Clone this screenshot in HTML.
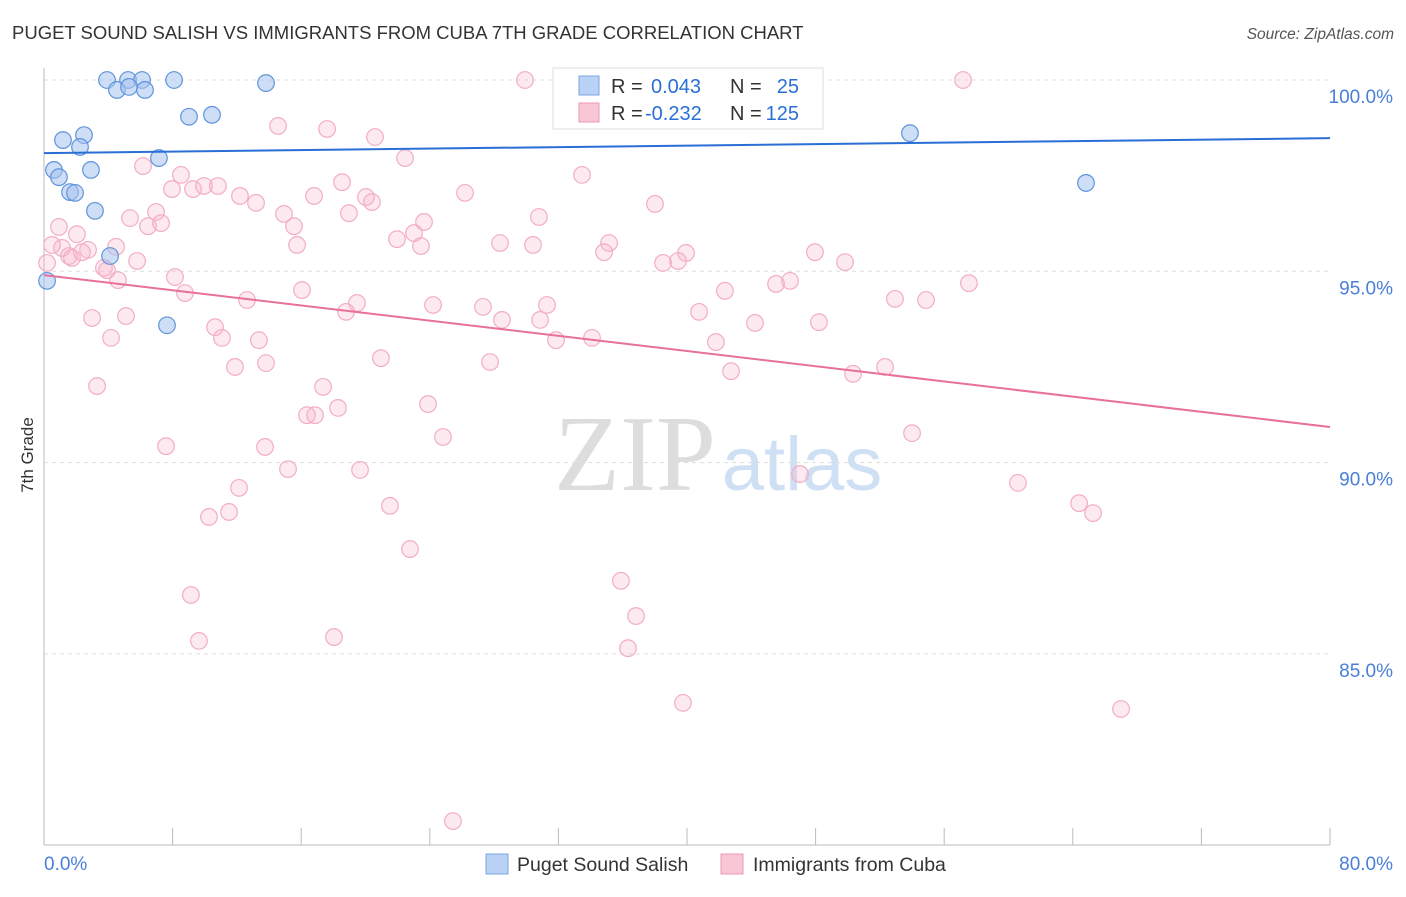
<!DOCTYPE html>
<html><head><meta charset="utf-8">
<style>
body{margin:0;background:#fff;font-family:"Liberation Sans",sans-serif;}
svg text{font-family:"Liberation Sans",sans-serif;}
</style></head>
<body>
<svg width="1406" height="892" xmlns="http://www.w3.org/2000/svg" id="chart">
<text x="12" y="39" font-size="18.5" fill="#333">PUGET SOUND SALISH VS IMMIGRANTS FROM CUBA 7TH GRADE CORRELATION CHART</text>
<text x="1394" y="39" font-size="15.5" fill="#555" font-style="italic" text-anchor="end">Source: ZipAtlas.com</text>
<g>
<text x="635" y="490" font-size="108" fill="#ddd" text-anchor="middle" style="font-family:'Liberation Serif',serif">ZIP</text>
<text x="802" y="490" font-size="76" fill="#cfe0f5" text-anchor="middle">atlas</text>
</g>
<g id="grid"></g>
<g id="axes"></g>
<g id="pts"></g>
<g id="lines"></g>
<text transform="translate(33,455) rotate(-90)" font-size="17" fill="#333" text-anchor="middle">7th Grade</text>
<g>
<rect x="553" y="68" width="270" height="61" fill="#fff" stroke="#ddd"/>
<rect x="579" y="76" width="20" height="19" fill="#b9d2f5" stroke="#7aa5e0"/>
<rect x="579" y="103" width="20" height="19" fill="#f9c6d6" stroke="#ee9ab6"/>
<text x="611" y="93" font-size="20" fill="#333">R =</text>
<text x="651" y="93" font-size="20" fill="#2a6fd6">0.043</text>
<text x="730" y="93" font-size="20" fill="#333">N =</text>
<text x="799" y="93" font-size="20" fill="#2a6fd6" text-anchor="end">25</text>
<text x="611" y="120" font-size="20" fill="#333">R =</text>
<text x="645" y="120" font-size="20" fill="#2a6fd6">-0.232</text>
<text x="730" y="120" font-size="20" fill="#333">N =</text>
<text x="799" y="120" font-size="20" fill="#2a6fd6" text-anchor="end">125</text>
</g>
<g>
<rect x="486" y="854" width="22" height="20" fill="#b9d2f5" stroke="#7aa5e0"/>
<text x="517" y="871" font-size="19.5" fill="#333">Puget Sound Salish</text>
<rect x="721" y="854" width="22" height="20" fill="#f9c6d6" stroke="#ee9ab6"/>
<text x="753" y="871" font-size="19.5" fill="#333">Immigrants from Cuba</text>
</g>
</svg>
<script>
const yTicks=[100,95,90,85];
const yTickLabels=["100.0%","95.0%","90.0%","85.0%"];
const xTickCount=10;
const xLabels=["0.0%","80.0%"];
const blueX=[3.92,5.23,6.10,8.09,13.81,4.54,5.29,6.28,9.02,10.45,1.18,2.49,2.24,7.15,0.62,2.92,0.93,1.62,1.93,3.17,4.11,0.19,7.65,53.87,64.82];
const blueY=[100,100,100,100,99.92,99.74,99.82,99.74,99.04,99.09,98.43,98.56,98.25,97.96,97.65,97.65,97.46,97.07,97.05,96.58,95.40,94.75,93.59,98.61,97.31];
const pinkX=[29.92,57.17,14.56,17.61,20.59,22.46,33.47,6.16,8.52,7.96,9.27,9.95,10.82,12.19,13.19,16.80,18.54,20.03,20.40,26.19,38.01,5.35,6.97,6.47,7.28,0.93,14.93,15.55,18.97,23.64,30.79,23.02,21.96,2.05,1.12,2.74,4.48,15.74,23.45,28.37,30.42,35.15,34.84,39.94,39.44,38.51,47.96,49.83,0.50,0.19,1.56,1.74,2.36,3.73,3.92,5.79,4.60,8.15,8.77,16.05,12.63,19.47,18.79,24.20,27.31,28.49,30.86,31.29,42.36,45.54,46.41,40.75,44.23,48.21,52.94,54.87,57.54,2.99,5.10,4.17,10.64,11.07,13.37,31.85,34.09,41.80,20.96,11.88,13.81,27.75,42.74,50.33,52.32,3.30,17.36,23.89,16.36,16.86,18.29,7.59,13.75,24.82,54.00,15.18,19.66,47.03,12.13,60.59,64.39,65.26,21.52,10.26,11.51,22.77,35.89,36.83,9.14,18.04,9.64,36.33,39.75,67.00,25.44];
const pinkY=[100,100,98.80,98.72,98.51,97.96,97.52,97.75,97.52,97.15,97.15,97.23,97.23,96.97,96.79,96.97,97.33,96.94,96.81,97.05,96.76,96.39,96.55,96.18,96.26,96.16,96.50,96.18,96.52,96.29,96.42,96.00,95.84,95.97,95.61,95.56,95.64,95.69,95.66,95.74,95.69,95.74,95.50,95.48,95.27,95.22,95.50,95.24,95.69,95.22,95.40,95.35,95.50,95.09,95.03,95.27,94.77,94.85,94.43,94.51,94.25,94.17,93.94,94.12,94.07,93.73,93.73,94.12,94.49,94.67,94.75,93.94,93.65,93.67,94.28,94.25,94.69,93.78,93.83,93.26,93.54,93.26,93.20,93.20,93.26,93.15,92.73,92.50,92.60,92.63,92.39,92.32,92.50,92.00,91.98,91.53,91.24,91.24,91.43,90.43,90.41,90.67,90.77,89.83,89.81,89.70,89.34,89.47,88.94,88.68,88.87,88.58,88.71,87.74,86.91,85.99,86.54,85.44,85.34,85.15,83.72,83.56,80.63];
const blueTrend=[98.09,98.48];
const pinkTrend=[94.90,90.93];
const X0=44,X1=1330,XMAX=80;
const sx=v=>X0+(v/XMAX)*(X1-X0);
const sy=v=>80+(100-v)*38.26;
const NS="http://www.w3.org/2000/svg";
function mk(tag,attrs,parent){const e=document.createElementNS(NS,tag);for(const k in attrs)e.setAttribute(k,attrs[k]);parent.appendChild(e);return e;}
const grid=document.getElementById('grid'),axes=document.getElementById('axes'),pts=document.getElementById('pts'),lines=document.getElementById('lines');
yTicks.forEach((t,i)=>{
 const l=mk('line',{x1:X0,x2:X1,y1:sy(t),y2:sy(t),stroke:'#ddd','stroke-dasharray':'4,4'},grid);
 
 
 const tx=mk('text',{x:1393,y:sy(t)+23,'font-size':19,fill:'#4a7fd8','text-anchor':'end'},axes);
 tx.textContent=yTickLabels[i];
 
 
});
const ya=mk('line',{x1:X0,x2:X0,y1:68,y2:845,stroke:'#bbb'},axes);


const xa=mk('line',{x1:X0,x2:X1,y1:845,y2:845,stroke:'#bbb'},axes);


for(let i=0;i<=xTickCount;i++){
 const x=sx(i*XMAX/xTickCount);
 const t=mk('line',{x1:x,x2:x,y1:828,y2:845,stroke:'#bbb'},axes);
 
 
}
const xl0=mk('text',{x:X0,y:870,'font-size':19,fill:'#4a7fd8'},axes);xl0.textContent=xLabels[0];


const xl1=mk('text',{x:1393,y:870,'font-size':19,fill:'#4a7fd8','text-anchor':'end'},axes);xl1.textContent=xLabels[1];


pinkX.forEach((v,i)=>{
 const c=mk('circle',{cx:sx(v),cy:sy(pinkY[i]),r:8.3,fill:'rgba(248,182,204,0.3)',stroke:'#f2adc5','stroke-width':1.2},pts);
 
 
});
blueX.forEach((v,i)=>{
 const c=mk('circle',{cx:sx(v),cy:sy(blueY[i]),r:8.3,fill:'rgba(165,195,240,0.55)',stroke:'#5f94dc','stroke-width':1.2},pts);
 
 
});
const bl=mk('line',{x1:sx(0),x2:sx(XMAX),y1:sy(blueTrend[0]),y2:sy(blueTrend[1]),stroke:'#2a6fd6','stroke-width':2},lines);


const pl=mk('line',{x1:sx(0),x2:sx(XMAX),y1:sy(pinkTrend[0]),y2:sy(pinkTrend[1]),stroke:'#e8709a','stroke-width':2},lines);


</script>
</body></html>
